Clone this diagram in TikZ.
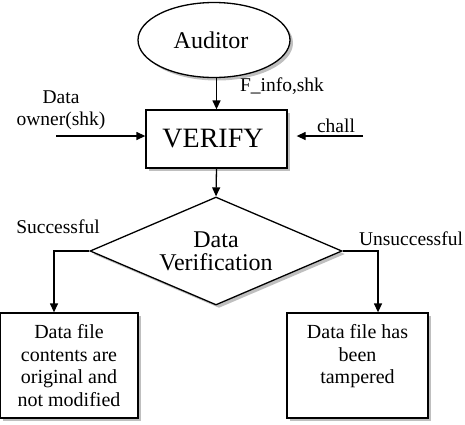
\documentclass[tikz,border=0pt]{standalone}
\usepackage{fontspec}
\setmainfont{Liberation Serif}
\usetikzlibrary{shapes.geometric,shadows,arrows.meta}

\begin{document}
\begin{tikzpicture}[
   x=1pt,
   y=-1pt,
   >={Triangle[length=9pt,width=8pt]},
   line width=1.3pt,
   shade/.style={
      drop shadow={shadow xshift=3pt,shadow yshift=-3pt,fill=black!50}
   },
   block/.style={
      draw,
      fill=white,
      shade,
      align=center,
      inner sep=0pt,
      font=\fontsize{20}{22.5}\selectfont
   },
   lbl/.style={
      align=center,
      inner sep=0pt,
      font=\fontsize{19.5}{22.5}\selectfont
   }
]

   \useasboundingbox (0,0) rectangle (465,424);

   % Auditor
   \node[
      block,
      ellipse,
      minimum width=152pt,
      minimum height=75pt,
      font=\fontsize{24}{26}\selectfont
   ] (auditor) at (214,40)
   {
      Auditor
   };

   % Verify
   \node[
      block,
      minimum width=141pt,
      minimum height=58pt,
      font=\fontsize{28}{30}\selectfont
   ] (verify) at (216.5,139)
   {
      VERIFY
   };

   \draw[->] (verify.north |- auditor.south) -- (verify.north);

   \node[lbl] (finfo) at (282,86) {F\_info,shk};

   % Data owner input
   \coordinate (owner) at (56,136);

   \draw[->] (owner) -- (owner -| verify.west);

   \node[lbl] (ownerlbl) at (61,110)
   {
      Data\\
      owner(shk)
   };

   % Challenge input
   \coordinate (chall) at (363,136);

   \draw[->,shorten >=9pt] (chall) -- (chall -| verify.east);

   \node[lbl] (challlbl) at (336,125.5) {chall};

   % Data verification
   \node[
      block,
      diamond,
      aspect=2.33,
      minimum width=252pt,
      minimum height=108pt,
      font=\fontsize{24}{23}\selectfont
   ] (check) at (216,251)
   {
      Data\\
      Verification
   };

   \draw[->] (verify.south) -- (check.north);

   % Successful
   \node[
      block,
      minimum width=138pt,
      minimum height=105pt
   ] (original) at (69,365.5)
   {
      Data file\\
      contents are\\
      original and\\
      not modified
   };

   \draw[->] (check.west) -| ([xshift=-15pt]original.north);

   \node[lbl] (oklbl) at (58,226.5) {Successful};

   % Unsuccessful
   \node[
      block,
      minimum width=141pt,
      minimum height=105pt
   ] (tampered) at (357.5,365.5)
   {
      Data file has\\
      been\\
      tampered\\
      \mbox{}
   };

   \draw[->] (check.east) -| ([xshift=20.5pt]tampered.north);

   \node[lbl] (faillbl) at (411,239) {Unsuccessful};

\end{tikzpicture}
\end{document}
